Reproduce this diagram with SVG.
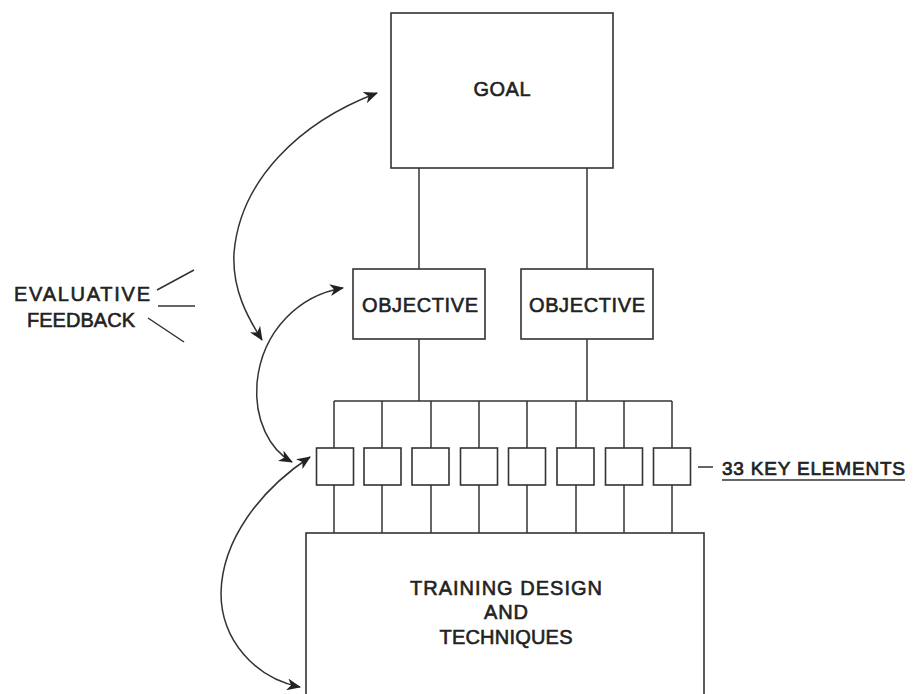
<svg xmlns="http://www.w3.org/2000/svg" width="919" height="694" viewBox="0 0 919 694">
<style>
.box{fill:none;stroke:#333;stroke-width:1.6}
.ln{fill:none;stroke:#333;stroke-width:1.5}
.arc{fill:none;stroke:#333;stroke-width:1.5;marker-start:url(#ah);marker-end:url(#ah)}
.t{font-family:"Liberation Sans",Arial,sans-serif;font-size:20px;fill:#222;text-anchor:middle;stroke:#222;stroke-width:0.6}
</style>
<defs>
<marker id="ah" markerUnits="userSpaceOnUse" markerWidth="16" markerHeight="12" refX="13" refY="6" orient="auto-start-reverse" viewBox="0 0 16 12">
<path d="M0,0 L14,6 L0,12 L4,6 z" fill="#222"/>
</marker>
</defs>
<rect width="919" height="694" fill="#fff"/>
<g id="connectors">
<line class="ln" x1="419" y1="168" x2="419" y2="269"/>
<line class="ln" x1="587" y1="168" x2="587" y2="269"/>
<line class="ln" x1="419" y1="339" x2="419" y2="401"/>
<line class="ln" x1="587" y1="339" x2="587" y2="401"/>
<line class="ln" x1="334" y1="401" x2="672" y2="401"/>
<g id="drops">
<line class="ln" x1="334" y1="401" x2="334" y2="448"/><line class="ln" x1="334" y1="485" x2="334" y2="533"/>
<line class="ln" x1="382" y1="401" x2="382" y2="448"/><line class="ln" x1="382" y1="485" x2="382" y2="533"/>
<line class="ln" x1="431" y1="401" x2="431" y2="448"/><line class="ln" x1="431" y1="485" x2="431" y2="533"/>
<line class="ln" x1="479" y1="401" x2="479" y2="448"/><line class="ln" x1="479" y1="485" x2="479" y2="533"/>
<line class="ln" x1="527" y1="401" x2="527" y2="448"/><line class="ln" x1="527" y1="485" x2="527" y2="533"/>
<line class="ln" x1="576" y1="401" x2="576" y2="448"/><line class="ln" x1="576" y1="485" x2="576" y2="533"/>
<line class="ln" x1="624" y1="401" x2="624" y2="448"/><line class="ln" x1="624" y1="485" x2="624" y2="533"/>
<line class="ln" x1="672" y1="401" x2="672" y2="448"/><line class="ln" x1="672" y1="485" x2="672" y2="533"/>
</g>
<path class="arc" d="M377,93 C300,122 240,180 234,253 C232,290 248,318 262,340"/>
<path class="arc" d="M343,288 C300,295 262,330 257,383 C254,420 270,450 292,462"/>
<path class="arc" d="M310,457 C260,490 222,540 221,593 C221,640 255,678 300,687"/>
<line class="ln" x1="698" y1="467" x2="713" y2="467"/>
</g>
<g id="goal">
<rect class="box" x="391" y="13" width="222" height="155"/>
<text class="t" x="502" y="96" textLength="57">GOAL</text>
</g>
<g id="objective1">
<rect class="box" x="353" y="269" width="132" height="70"/>
<text class="t" x="420" y="312" textLength="116">OBJECTIVE</text>
</g>
<g id="objective2">
<rect class="box" x="521" y="269" width="132" height="70"/>
<text class="t" x="587" y="312" textLength="116">OBJECTIVE</text>
</g>
<g id="key-elements">
<rect class="box" x="316.5" y="448" width="37" height="37"/>
<rect class="box" x="364" y="448" width="37" height="37"/>
<rect class="box" x="412" y="448" width="37" height="37"/>
<rect class="box" x="460.5" y="448" width="37" height="37"/>
<rect class="box" x="508.5" y="448" width="37" height="37"/>
<rect class="box" x="557" y="448" width="37" height="37"/>
<rect class="box" x="605.5" y="448" width="37" height="37"/>
<rect class="box" x="653.5" y="448" width="37" height="37"/>
</g>
<g id="key-label">
<text class="t" x="722" y="475" style="text-anchor:start;font-size:19px;stroke-width:0.7" textLength="183">33 KEY ELEMENTS</text>
<line class="ln" x1="722" y1="480" x2="905" y2="480"/>
</g>
<g id="training">
<rect class="box" x="306" y="533" width="398" height="170"/>
<text class="t" x="506" y="595" textLength="192">TRAINING DESIGN</text>
<text class="t" x="506" y="619" textLength="44">AND</text>
<text class="t" x="506" y="644" textLength="133">TECHNIQUES</text>
</g>
<g id="feedback">
<text class="t" x="82" y="301" textLength="136">EVALUATIVE</text>
<text class="t" x="81" y="327" textLength="108">FEEDBACK</text>
<line class="ln" x1="157" y1="290" x2="194" y2="270"/>
<line class="ln" x1="158" y1="306" x2="195" y2="306"/>
<line class="ln" x1="148" y1="318" x2="184" y2="342"/>
</g>
</svg>
